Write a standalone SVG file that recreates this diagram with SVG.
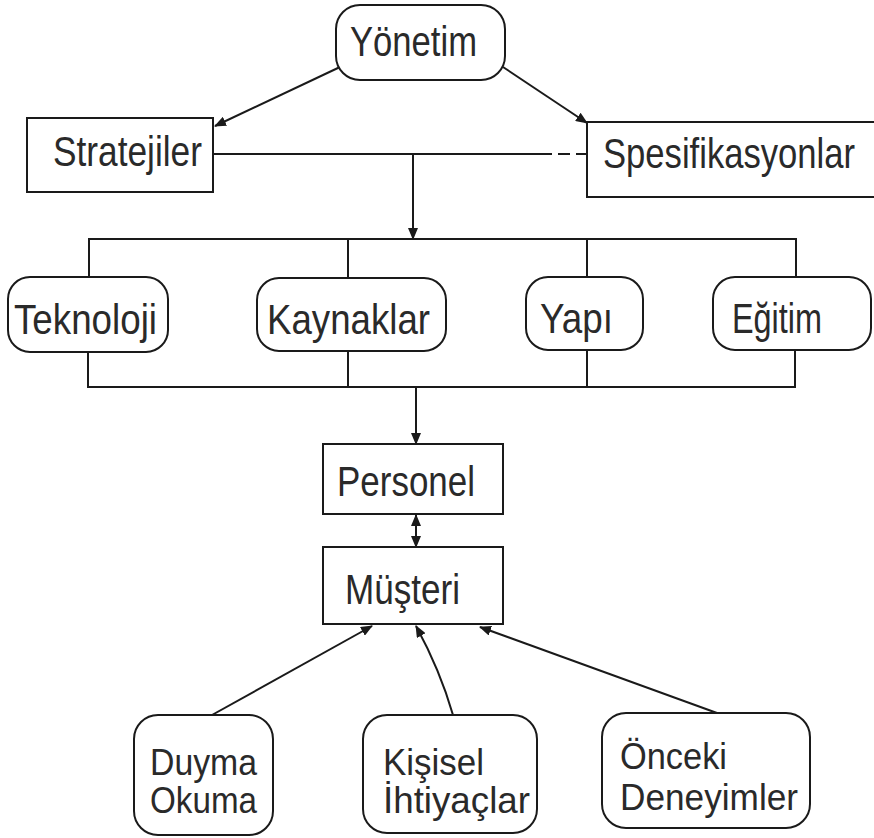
<svg xmlns="http://www.w3.org/2000/svg" width="874" height="838" viewBox="0 0 874 838">
<style>
.box{fill:#fff;stroke:#1a1a1a;stroke-width:2}
.t{font-family:"Liberation Sans",Arial,sans-serif;font-size:42px;fill:#2a2a2a}
.s{font-size:36px}
.c{fill:none;stroke:#1a1a1a;stroke-width:2}
</style>
<defs>
<marker id="ah" viewBox="0 0 12 10" refX="11" refY="5" markerWidth="12" markerHeight="10" markerUnits="userSpaceOnUse" orient="auto-start-reverse">
<path d="M0,0 L12,5 L0,10 Z" fill="#1a1a1a"/>
</marker>
</defs>
<rect width="874" height="838" fill="#fff"/>
<g id="connectors">
<line class="c" x1="340" y1="67" x2="215" y2="126" marker-end="url(#ah)"/>
<line class="c" x1="503" y1="67" x2="587" y2="123" marker-end="url(#ah)"/>
<line class="c" x1="213" y1="154" x2="552" y2="154"/>
<line class="c" x1="558" y1="154" x2="570" y2="154"/>
<line class="c" x1="576" y1="154" x2="587" y2="154"/>
<line class="c" x1="413" y1="154" x2="413" y2="239" marker-end="url(#ah)"/>
<polyline class="c" points="89,277 89,239 796,239 796,277"/>
<line class="c" x1="348" y1="239" x2="348" y2="278"/>
<line class="c" x1="587" y1="239" x2="587" y2="277"/>
<polyline class="c" points="88,352 88,387 795,387 795,350"/>
<line class="c" x1="348" y1="351" x2="348" y2="387"/>
<line class="c" x1="587" y1="350" x2="587" y2="387"/>
<line class="c" x1="416" y1="387" x2="416" y2="444" marker-end="url(#ah)"/>
<line class="c" x1="416" y1="515" x2="416" y2="547" marker-start="url(#ah)" marker-end="url(#ah)"/>
<line class="c" x1="212" y1="715" x2="372" y2="626" marker-end="url(#ah)"/>
<path class="c" d="M453,715 Q440,670 416,626" marker-end="url(#ah)"/>
<line class="c" x1="717" y1="713" x2="480" y2="627" marker-end="url(#ah)"/>
</g>
<g id="yonetim">
<rect class="box" x="336" y="5" width="169" height="75" rx="24"/>
<text class="t" x="350" y="56" textLength="127" lengthAdjust="spacingAndGlyphs">Yönetim</text>
</g>
<g id="stratejiler">
<rect class="box" x="27" y="118" width="186" height="74"/>
<text class="t" x="53" y="166" textLength="149" lengthAdjust="spacingAndGlyphs">Stratejiler</text>
</g>
<g id="spesifikasyonlar">
<rect class="box" x="587" y="122" width="300" height="75"/>
<text class="t" x="603" y="168" textLength="252" lengthAdjust="spacingAndGlyphs">Spesifikasyonlar</text>
</g>
<g id="teknoloji">
<rect class="box" x="8" y="277" width="160" height="75" rx="22"/>
<text class="t" x="14" y="334" textLength="143" lengthAdjust="spacingAndGlyphs">Teknoloji</text>
</g>
<g id="kaynaklar">
<rect class="box" x="257" y="278" width="189" height="73" rx="22"/>
<text class="t" x="267" y="334" textLength="163" lengthAdjust="spacingAndGlyphs">Kaynaklar</text>
</g>
<g id="yapi">
<rect class="box" x="526" y="277" width="117" height="73" rx="22"/>
<text class="t" x="540" y="333" textLength="73" lengthAdjust="spacingAndGlyphs">Yapı</text>
</g>
<g id="egitim">
<rect class="box" x="713" y="277" width="158" height="73" rx="22"/>
<text class="t" x="732" y="333" textLength="90" lengthAdjust="spacingAndGlyphs">Eğitim</text>
</g>
<g id="personel">
<rect class="box" x="323" y="444" width="180" height="70"/>
<text class="t" x="337" y="496" textLength="138" lengthAdjust="spacingAndGlyphs">Personel</text>
</g>
<g id="musteri">
<rect class="box" x="323" y="547" width="180" height="77"/>
<text class="t" x="345" y="604" textLength="115" lengthAdjust="spacingAndGlyphs">Müşteri</text>
</g>
<g id="duyma">
<rect class="box" x="134" y="715" width="139" height="120" rx="24"/>
<text class="t s" x="150" y="775" textLength="107" lengthAdjust="spacingAndGlyphs">Duyma</text>
<text class="t s" x="150" y="813" textLength="107" lengthAdjust="spacingAndGlyphs">Okuma</text>
</g>
<g id="kisisel">
<rect class="box" x="363" y="715" width="174" height="118" rx="24"/>
<text class="t s" x="383" y="775" textLength="101" lengthAdjust="spacingAndGlyphs">Kişisel</text>
<text class="t s" x="383" y="813" textLength="147" lengthAdjust="spacingAndGlyphs">İhtiyaçlar</text>
</g>
<g id="onceki">
<rect class="box" x="602" y="713" width="208" height="115" rx="24"/>
<text class="t s" x="620" y="769" textLength="107" lengthAdjust="spacingAndGlyphs">Önceki</text>
<text class="t s" x="620" y="810" textLength="178" lengthAdjust="spacingAndGlyphs">Deneyimler</text>
</g>
</svg>
